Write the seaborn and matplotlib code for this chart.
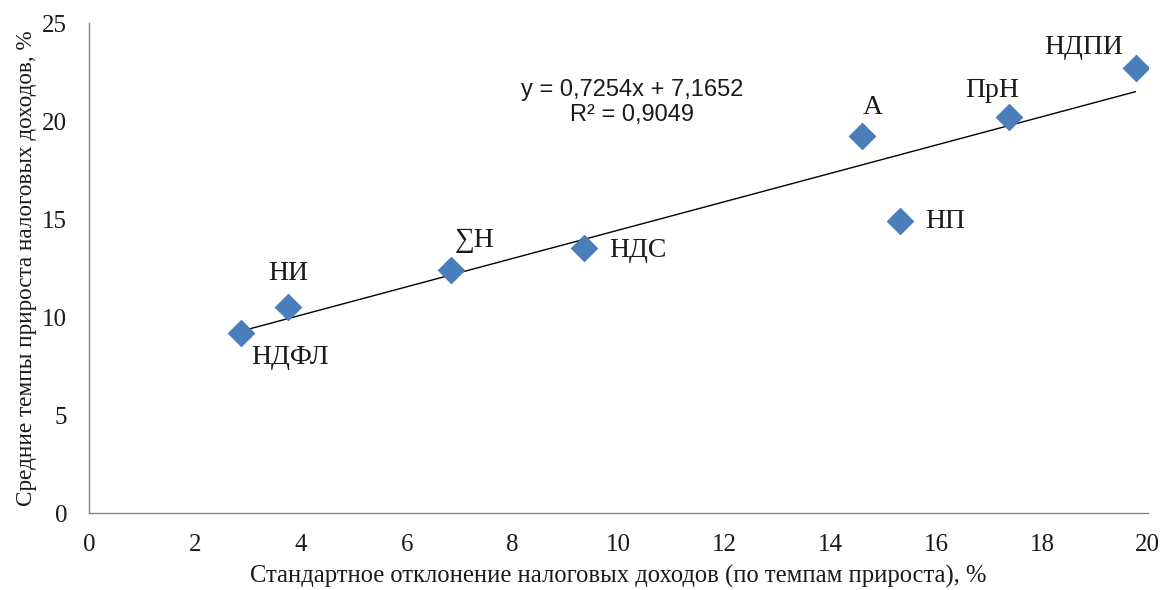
import numpy as np
import pandas as pd
import matplotlib
matplotlib.use("Agg")
import matplotlib.pyplot as plt
import seaborn as sns

labels = ["НДФЛ", "НИ", "∑Н", "НДС", "А", "НП", "ПрН", "НДПИ"]
std_dev = [2.87, 3.75, 6.83, 9.35, 14.60, 15.32, 17.37, 19.77]
mean_growth = [9.20, 10.52, 12.41, 13.53, 19.24, 14.92, 20.20, 22.70]
x_ticks = [0, 2, 4, 6, 8, 10, 12, 14, 16, 18, 20]
y_ticks = [0, 5, 10, 15, 20, 25]
equation_text = "y = 0,7254x + 7,1652\nR² = 0,9049"
x_label = "Стандартное отклонение налоговых доходов (по темпам прироста), %"
y_label = "Средние темпы прироста налоговых доходов, %"

# label offsets in pixels (dx, dy) and horizontal alignment
label_offsets = [(49, -25, "center"), (0, 34, "center"), (24, 30, "center"),
                 (25, -2, "left"), (11, 29, "center"), (25, -1, "left"),
                 (-16, 27, "center"), (-52, 21, "center")]

df = pd.DataFrame({"label": labels, "x": std_dev, "y": mean_growth})

sns.set_style("white")
plt.rcParams["font.family"] = ["Liberation Serif", "DejaVu Serif"]

fig = plt.figure(figsize=(11.64, 5.90), dpi=100)
ax = fig.add_axes([0.0767, 0.13, 0.9093, 0.8305])

sns.regplot(data=df, x="x", y="y", ax=ax, ci=None, truncate=True,
            scatter=False, line_kws=dict(color="black", lw=1.0, zorder=2))
sns.scatterplot(data=df, x="x", y="y", ax=ax, marker="D", s=200,
                color="#4a7ebb", edgecolor="#4a7ebb", linewidth=0, zorder=3)

for (lab, xv, yv), (dx, dy, ha) in zip(zip(labels, std_dev, mean_growth), label_offsets):
    ax.annotate(lab, (xv, yv), xytext=(dx, dy), textcoords="offset pixels",
                ha=ha, va="center", fontsize=20, color="#1a1a1a",
                family=["Liberation Serif", "DejaVu Serif"])

ax.text(10.25, 20.95, equation_text, ha="center", va="center", fontsize=17,
        family=["Liberation Sans", "DejaVu Sans"], color="#1a1a1a", linespacing=1.15)

ax.set_xlim(0, 20)
ax.set_ylim(0, 25)
ax.set_xticks(x_ticks)
ax.set_yticks(y_ticks)
ax.set_xlabel(x_label, fontsize=17.7, labelpad=6, color="#1a1a1a")
ax.set_ylabel(y_label, fontsize=16.7, labelpad=4, color="#1a1a1a")
ax.tick_params(axis="both", labelsize=18, colors="#1a1a1a", length=7,
               width=1, direction="out", color="#868686")
ax.tick_params(axis="x", pad=8)
ax.tick_params(axis="y", pad=9)

for s in ["top", "right"]:
    ax.spines[s].set_visible(False)
for s in ["left", "bottom"]:
    ax.spines[s].set_color("#868686")
    ax.spines[s].set_linewidth(1)

fig.savefig("out.png", dpi=100, facecolor="white")
